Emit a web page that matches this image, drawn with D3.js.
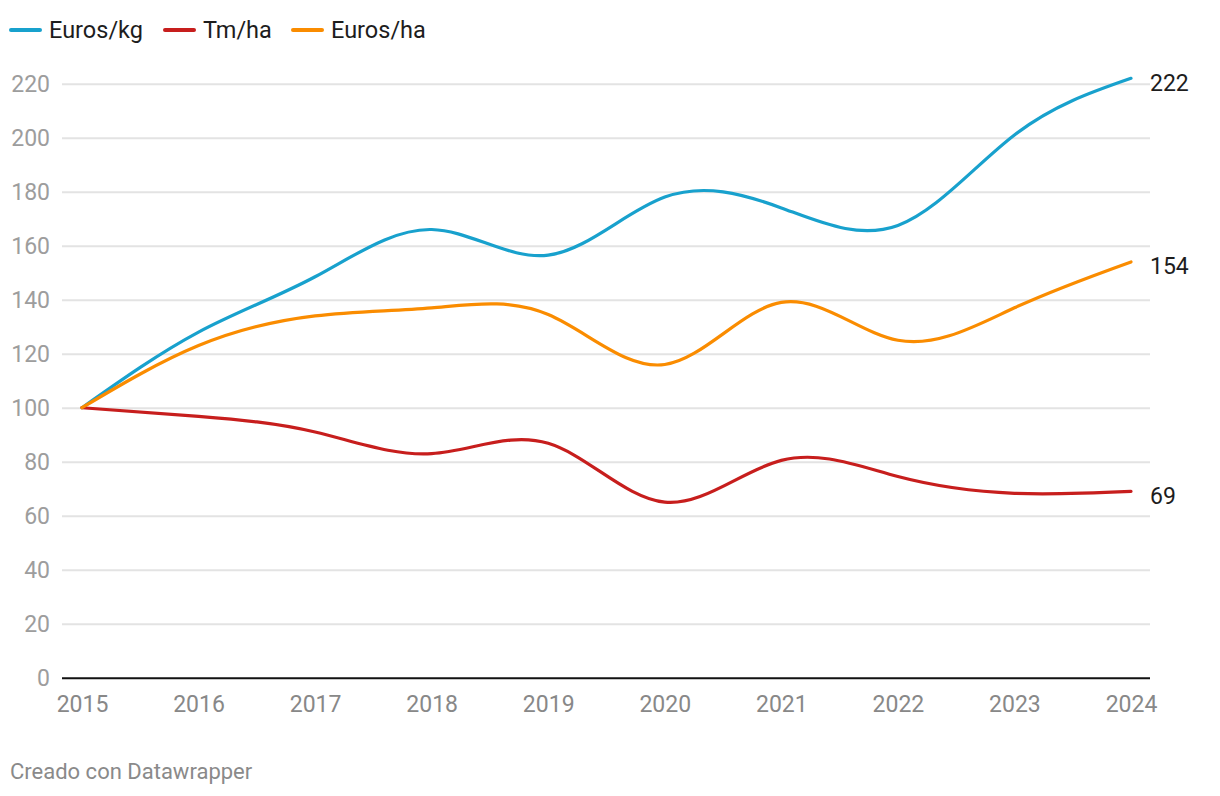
<!DOCTYPE html>
<html><head><meta charset="utf-8">
<script src="https://cdn.jsdelivr.net/npm/d3@7"></script>
<style>
body{margin:0;background:#fff;font-family:Roboto,"Noto Sans",sans-serif;}
</style></head>
<body>
<svg id="c" width="1220" height="796"></svg>
<script>
const years = [2015,2016,2017,2018,2019,2020,2021,2022,2023,2024];
const eurosKg = [100,128,148.5,166,156.5,178,174,167.5,201,222];
const tmHa = [100,96.8,91,83,86.8,65,80.5,74.5,68.3,69];
const eurosHa = [100,123,134,137,134.5,116,139,125,137,154];
const yTicks = [0,20,40,60,80,100,120,140,160,180,200,220];
const seriesNames = ["Euros/kg","Tm/ha","Euros/ha"];
const seriesColors = ["#18a1cd","#c71e1d","#fa8c00"];
const series = [eurosKg, tmHa, eurosHa];

const svg = d3.select("#c");
const x = d3.scaleLinear().domain([2015,2024]).range([82,1131]);
const y = d3.scaleLinear().domain([0,220]).range([677.7,83.7]);

// grid
const gy = svg.append("g")
  .call(d3.axisLeft(y).tickValues(yTicks).tickSize(0).tickPadding(0));
gy.select(".domain").remove();
gy.selectAll(".tick line").attr("x1",62).attr("x2",1150).attr("stroke","#e3e3e3").attr("stroke-width",2);
gy.selectAll(".tick text").attr("x",50).attr("text-anchor","end").attr("dy","0.36em")
  .attr("fill","#9d9d9d").style("font-size","23px").style("font-family","Roboto");
gy.selectAll(".tick").filter(d=>d===0).select("line").attr("stroke","#111").attr("stroke-width",2);

// x axis
const gx = svg.append("g").attr("transform",`translate(0,${y(0)})`)
  .call(d3.axisBottom(x).tickValues(years).tickFormat(d3.format("d")).tickSize(0).tickPadding(18));
gx.select(".domain").remove();
gx.selectAll(".tick text").attr("fill","#888").style("font-size","23px").style("font-family","Roboto");

// lines
const line = d3.line().x((d,i)=>x(years[i])).y(d=>y(d)).curve(d3.curveNatural);
series.forEach((s,k)=>{
  svg.append("path").datum(s).attr("d",line).attr("fill","none")
    .attr("stroke",seriesColors[k]).attr("stroke-width",3.2).attr("stroke-linecap","round");
  svg.append("text").attr("x",1150).attr("y",y(s[s.length-1])+4).attr("dy","0.36em")
    .attr("fill","#1d1d1d").style("font-size","23px").style("font-family","Roboto")
    .text(d3.format("d")(s[s.length-1]));
});

// legend
const legX = [11,165,293];
seriesNames.forEach((n,k)=>{
  svg.append("line").attr("x1",legX[k]).attr("x2",legX[k]+29).attr("y1",30).attr("y2",30)
    .attr("stroke",seriesColors[k]).attr("stroke-width",4).attr("stroke-linecap","round");
  svg.append("text").attr("x",legX[k]+38).attr("y",30).attr("dy","0.36em")
    .attr("fill","#1d1d1d").style("font-size","23.5px").style("font-family","Roboto").text(n);
});

// credit
svg.append("text").attr("x",10).attr("y",771).attr("dy","0.36em")
  .attr("fill","#8a8a8a").style("font-size","22px").style("font-family","Roboto").text("Creado con Datawrapper");
</script>
</body></html>
